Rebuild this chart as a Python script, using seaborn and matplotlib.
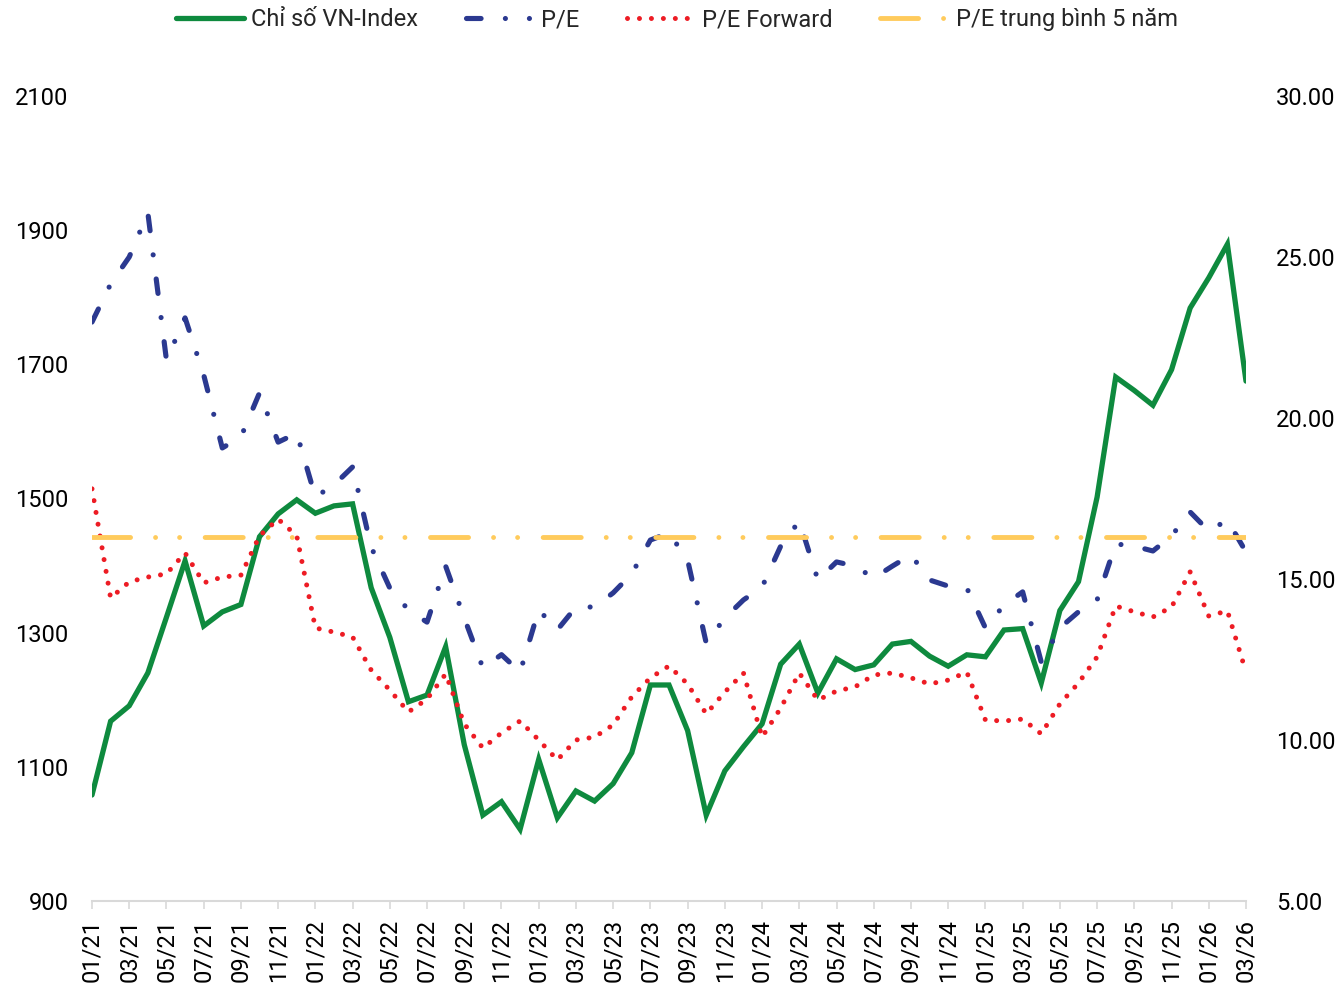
import numpy as np
import pandas as pd
import matplotlib
matplotlib.use("Agg")
import matplotlib.pyplot as plt
from matplotlib.lines import Line2D
import seaborn as sns

# ---------------- data ----------------
months = ["01/21", "02/21", "03/21", "04/21", "05/21", "06/21", "07/21", "08/21", "09/21", "10/21", "11/21", "12/21",
          "01/22", "02/22", "03/22", "04/22", "05/22", "06/22", "07/22", "08/22", "09/22", "10/22", "11/22", "12/22",
          "01/23", "02/23", "03/23", "04/23", "05/23", "06/23", "07/23", "08/23", "09/23", "10/23", "11/23", "12/23",
          "01/24", "02/24", "03/24", "04/24", "05/24", "06/24", "07/24", "08/24", "09/24", "10/24", "11/24", "12/24",
          "01/25", "02/25", "03/25", "04/25", "05/25", "06/25", "07/25", "08/25", "09/25", "10/25", "11/25", "12/25",
          "01/26", "02/26", "03/26"]

vnindex = [1058, 1168, 1191, 1240, 1323, 1407, 1310, 1331, 1342, 1443, 1477, 1498,
           1478, 1489, 1492, 1367, 1293, 1197, 1207, 1279, 1133, 1028, 1048, 1007,
           1111, 1024, 1064, 1049, 1075, 1121, 1222, 1222, 1154, 1028, 1094, 1130,
           1164, 1253, 1283, 1210, 1261, 1245, 1252, 1283, 1287, 1265, 1250, 1267,
           1264, 1304, 1306, 1225, 1333, 1376, 1502, 1681, 1661, 1639, 1692, 1784,
           1829, 1879, 1675]

pe = [22.98, 24.16, 25.00, 26.37, 21.80, 23.11, 21.34, 19.07, 19.41, 20.78, 19.25, 19.53,
      17.55, 17.92, 18.48, 15.99, 14.72, 14.04, 13.66, 15.40, 13.79, 12.24, 12.65, 12.11,
      14.04, 13.42, 14.13, 14.13, 14.57, 15.16, 16.21, 16.43, 15.59, 13.01, 13.79, 14.35,
      14.75, 16.02, 16.80, 14.97, 15.53, 15.40, 15.03, 15.40, 15.75, 14.97, 14.78, 14.72,
      13.48, 14.19, 14.60, 12.42, 13.48, 13.98, 14.35, 16.09, 16.02, 15.87, 16.34, 17.08,
      16.49, 16.83, 15.84]

pe_forward = [17.80, 14.41, 14.91, 15.06, 15.16, 15.81, 14.88, 15.06, 15.12, 16.34, 16.86, 16.34,
              13.48, 13.35, 13.20, 12.17, 11.55, 10.87, 11.27, 12.05, 10.50, 9.75, 10.22, 10.59,
              10.00, 9.38, 10.00, 10.09, 10.47, 11.34, 11.93, 12.30, 11.74, 10.81, 11.49, 12.08,
              10.09, 10.99, 12.08, 11.24, 11.52, 11.65, 12.02, 12.08, 11.93, 11.74, 11.86, 12.11,
              10.62, 10.59, 10.65, 10.19, 11.12, 11.77, 12.58, 14.16, 13.98, 13.82, 14.13, 15.22,
              13.85, 14.01, 12.11]

pe_avg_5y = 16.3

left_ticks = [900, 1100, 1300, 1500, 1700, 1900, 2100]
right_ticks = [5, 10, 15, 20, 25, 30]

series_names = ["Chỉ số VN-Index", "P/E", "P/E Forward", "P/E trung bình 5 năm"]

# ---------------- style ----------------
sns.set_style("white")
plt.rcParams["font.family"] = ["Roboto", "DejaVu Sans"]
plt.rcParams["lines.scale_dashes"] = False
FS = 17

GREEN = "#0E8A3E"
NAVY = "#2B3990"
RED = "#ED1C24"
YELLOW = "#FFCB5C"
AXIS_GRAY = "#D9D9D9"

PE_DASH = (0, (10.5, 17.5, 0.01, 17.5))
FWD_DASH = (0, (0.01, 8.6))
AVG_DASH = (0, (27.4, 18.0, 0.01, 17.3, 0.01, 18.4))

df = pd.DataFrame({"idx": np.arange(len(months)), "month": months,
                   "vnindex": vnindex, "pe": pe, "pe_forward": pe_forward})

fig = plt.figure(figsize=(13.4, 9.84), dpi=100)
ax = fig.add_axes([92 / 1340, 1 - 901 / 984, (1246 - 92) / 1340, (901 - 96) / 984])
ax2 = ax.twinx()

# VN-Index on left axis
sns.lineplot(data=df, x="idx", y="vnindex", ax=ax, color=GREEN, linewidth=3.8, legend=False)
ln = ax.lines[-1]
ln.set_solid_capstyle("round")
ln.set_solid_joinstyle("miter")

# P/E lines on right axis
sns.lineplot(data=df, x="idx", y="pe", ax=ax2, color=NAVY, linewidth=3.7, legend=False)
l_pe = ax2.lines[-1]
l_pe.set_linestyle(PE_DASH)
l_pe.set_dash_capstyle("round")

sns.lineplot(data=df, x="idx", y="pe_forward", ax=ax2, color=RED, linewidth=3.6, legend=False)
l_fw = ax2.lines[-1]
l_fw.set_linestyle(FWD_DASH)
l_fw.set_dash_capstyle("round")

l_avg = ax2.axhline(pe_avg_5y, color=YELLOW, linewidth=3.5, linestyle=AVG_DASH)
l_avg.set_dash_capstyle("round")

# axes limits / ticks
n = len(months)
ax.set_xlim(0, n - 1)
ax.set_ylim(left_ticks[0], left_ticks[-1])
ax2.set_ylim(right_ticks[0], right_ticks[-1])

ax.set_xticks(np.arange(0, n, 2))
ax.set_xticklabels(months[::2], rotation=90, fontsize=FS)
ax.set_yticks(left_ticks)
ax.set_yticklabels([str(t) for t in left_ticks], fontsize=FS)
ax2.set_yticks(right_ticks)
ax2.set_yticklabels([f"{t:.2f}" for t in right_ticks], fontsize=FS)

ax.set_xlabel("")
ax.set_ylabel("")
ax2.set_ylabel("")

for a in (ax, ax2):
    for s in ("top", "left", "right", "bottom"):
        a.spines[s].set_visible(False)
ax.spines["bottom"].set_visible(True)
ax.spines["bottom"].set_color(AXIS_GRAY)
ax.spines["bottom"].set_linewidth(1.5)

ax.tick_params(axis="x", which="major", bottom=True, length=6, width=1.2,
               color=AXIS_GRAY, pad=7, labelcolor="black")
ax.tick_params(axis="y", length=0, pad=17, labelcolor="black")
ax2.tick_params(axis="y", length=0, pad=21.5, labelcolor="black")
ax.grid(False)
ax2.grid(False)

# legend
h_green = Line2D([], [], color=GREEN, linewidth=3.8, solid_capstyle="round")
h_pe = Line2D([], [], color=NAVY, linewidth=3.7, linestyle=(0, (10.5, 17.5, 0.01, 17.3, 0.01, 40)),
              dash_capstyle="round")
h_fw = Line2D([], [], color=RED, linewidth=3.6, linestyle=FWD_DASH, dash_capstyle="round")
h_avg = Line2D([], [], color=YELLOW, linewidth=3.5, linestyle=AVG_DASH, dash_capstyle="round")
fig.legend([h_green, h_pe, h_fw, h_avg], series_names, loc="center", bbox_to_anchor=(0.505, 0.980),
           ncol=4, frameon=False, fontsize=FS, handlelength=2.9, handletextpad=0.3,
           columnspacing=2.0, borderaxespad=0, borderpad=0)

fig.savefig("out.png", dpi=100, facecolor="white")
